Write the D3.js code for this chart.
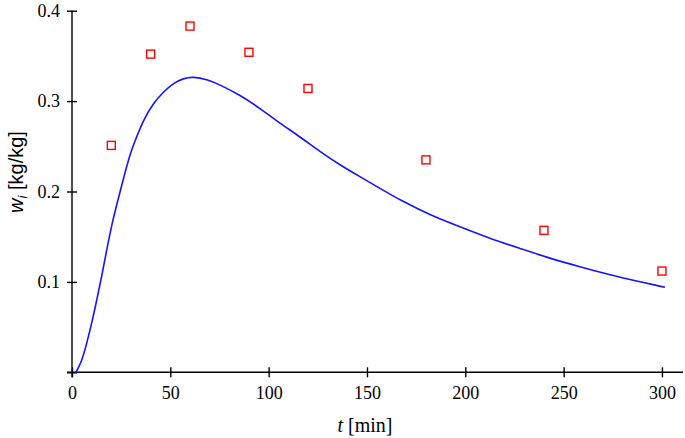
<!DOCTYPE html>
<html>
<head>
<meta charset="utf-8">
<script src="https://cdn.jsdelivr.net/npm/d3@7"></script>
<style>
  body { margin: 0; background: #fff; }
  .serif { font-family: "Liberation Serif", "DejaVu Serif", serif; }
  .sans { font-family: "Liberation Sans", "DejaVu Sans", sans-serif; }
</style>
</head>
<body>
<div id="chart"></div>
<script>
// measured points (red squares)
var measT = [20, 40, 60, 90, 120, 180, 240, 300];
var measW = [0.251, 0.352, 0.383, 0.354, 0.314, 0.235, 0.157, 0.112];

// model curve (blue line)
var modelT = [2, 4.9, 7.5, 10, 12.6, 15.1, 17.6, 20.2, 22.7, 25.3, 29.5, 32.9, 36.3, 41.3, 46.4, 51.5, 56.6, 61.7, 68.5,
    75.3, 85.4, 95.6, 105.8, 115.9, 126.1, 136.3, 146.4, 156.6, 166.8, 182, 197.3, 212.5, 227.8,
    243, 258.3, 273.6, 288.8, 301.5];
var modelW = [0, 0.0117, 0.032, 0.054, 0.080, 0.106, 0.135, 0.163, 0.185, 0.207, 0.242, 0.2606, 0.279, 0.2976, 0.310, 0.3197, 0.3252, 0.327, 0.324,
    0.318, 0.3067, 0.292, 0.2754, 0.2606, 0.244, 0.2293, 0.2164, 0.2035, 0.1906, 0.174, 0.161, 0.148, 0.137,
    0.126, 0.1168, 0.1076, 0.1002, 0.094];

var xTicks = [0, 50, 100, 150, 200, 250, 300];
var yTicks = [0, 0.1, 0.2, 0.3, 0.4];

var width = 685, height = 438;

var svg = d3.select("#chart")
    .append("svg")
    .attr("width", width)
    .attr("height", height);

var x = d3.scaleLinear()
    .domain([0, 310.7])
    .range([72, 683]);

var y = d3.scaleLinear()
    .domain([0, 0.4])
    .range([372.3, 10.7]);

// x axis
var gx = svg.append("g")
    .attr("transform", "translate(0," + y(0) + ")")
    .call(d3.axisBottom(x).tickValues(xTicks).tickSizeOuter(0).tickSize(5).tickPadding(9)
        .tickFormat(d3.format("d")));
gx.attr("font-family", null).attr("font-size", 18).attr("class", "serif");
gx.select(".domain").attr("d", "M" + (x(0) - 5) + ",0H" + 683)
    .attr("stroke", "#000").attr("stroke-width", 1.4);
gx.selectAll(".tick line").attr("y1", -5).attr("y2", 5)
    .attr("stroke", "#000").attr("stroke-width", 1.4);
gx.selectAll(".tick text").attr("fill", "#000");

// y axis
var gy = svg.append("g")
    .attr("transform", "translate(" + x(0) + ",0)")
    .call(d3.axisLeft(y).tickValues(yTicks).tickSizeOuter(0).tickSize(5).tickPadding(7)
        .tickFormat(function (d) { return d === 0 ? "" : d3.format(".1f")(d); }));
gy.attr("font-family", null).attr("font-size", 18).attr("class", "serif");
gy.select(".domain").attr("d", "M0," + y(0.4) + "V" + (y(0) + 5))
    .attr("stroke", "#000").attr("stroke-width", 1.4);
gy.selectAll(".tick line").attr("x1", -5).attr("x2", 5)
    .attr("stroke", "#000").attr("stroke-width", 1.4);
gy.selectAll(".tick text").attr("fill", "#000");

// axis titles
var xl = svg.append("text")
    .attr("class", "serif")
    .attr("x", 365)
    .attr("y", 432)
    .attr("text-anchor", "middle")
    .attr("font-size", 20)
    .attr("fill", "#000");
xl.append("tspan").attr("font-style", "italic").text("t");
xl.append("tspan").text(" [min]");

var yl = svg.append("text")
    .attr("class", "sans")
    .attr("transform", "translate(23,172) rotate(-90)")
    .attr("text-anchor", "middle")
    .attr("font-size", 20)
    .attr("fill", "#000");
yl.append("tspan").attr("font-style", "italic").text("w");
yl.append("tspan").attr("font-style", "italic").attr("font-size", 13).attr("dy", 4).text("i");
yl.append("tspan").attr("dy", -4).text(" [kg/kg]");

// model curve
var modelData = modelT.map(function (t, i) { return { t: t, w: modelW[i] }; });
svg.append("path")
    .datum(modelData)
    .attr("fill", "none")
    .attr("stroke", "#1414ff")
    .attr("stroke-width", 1.6)
    .attr("d", d3.line()
        .x(function (d) { return x(d.t); })
        .y(function (d) { return y(d.w); })
        .curve(d3.curveBasis));

// measured points
var measData = measT.map(function (t, i) { return { t: t, w: measW[i] }; });
svg.append("g")
    .selectAll("rect")
    .data(measData)
    .join("rect")
    .attr("x", function (d) { return x(d.t) - 4; })
    .attr("y", function (d) { return y(d.w) - 4; })
    .attr("width", 8)
    .attr("height", 8)
    .attr("fill", "#fff")
    .attr("stroke", "#ff0000")
    .attr("stroke-width", 1.4);
</script>
</body>
</html>
